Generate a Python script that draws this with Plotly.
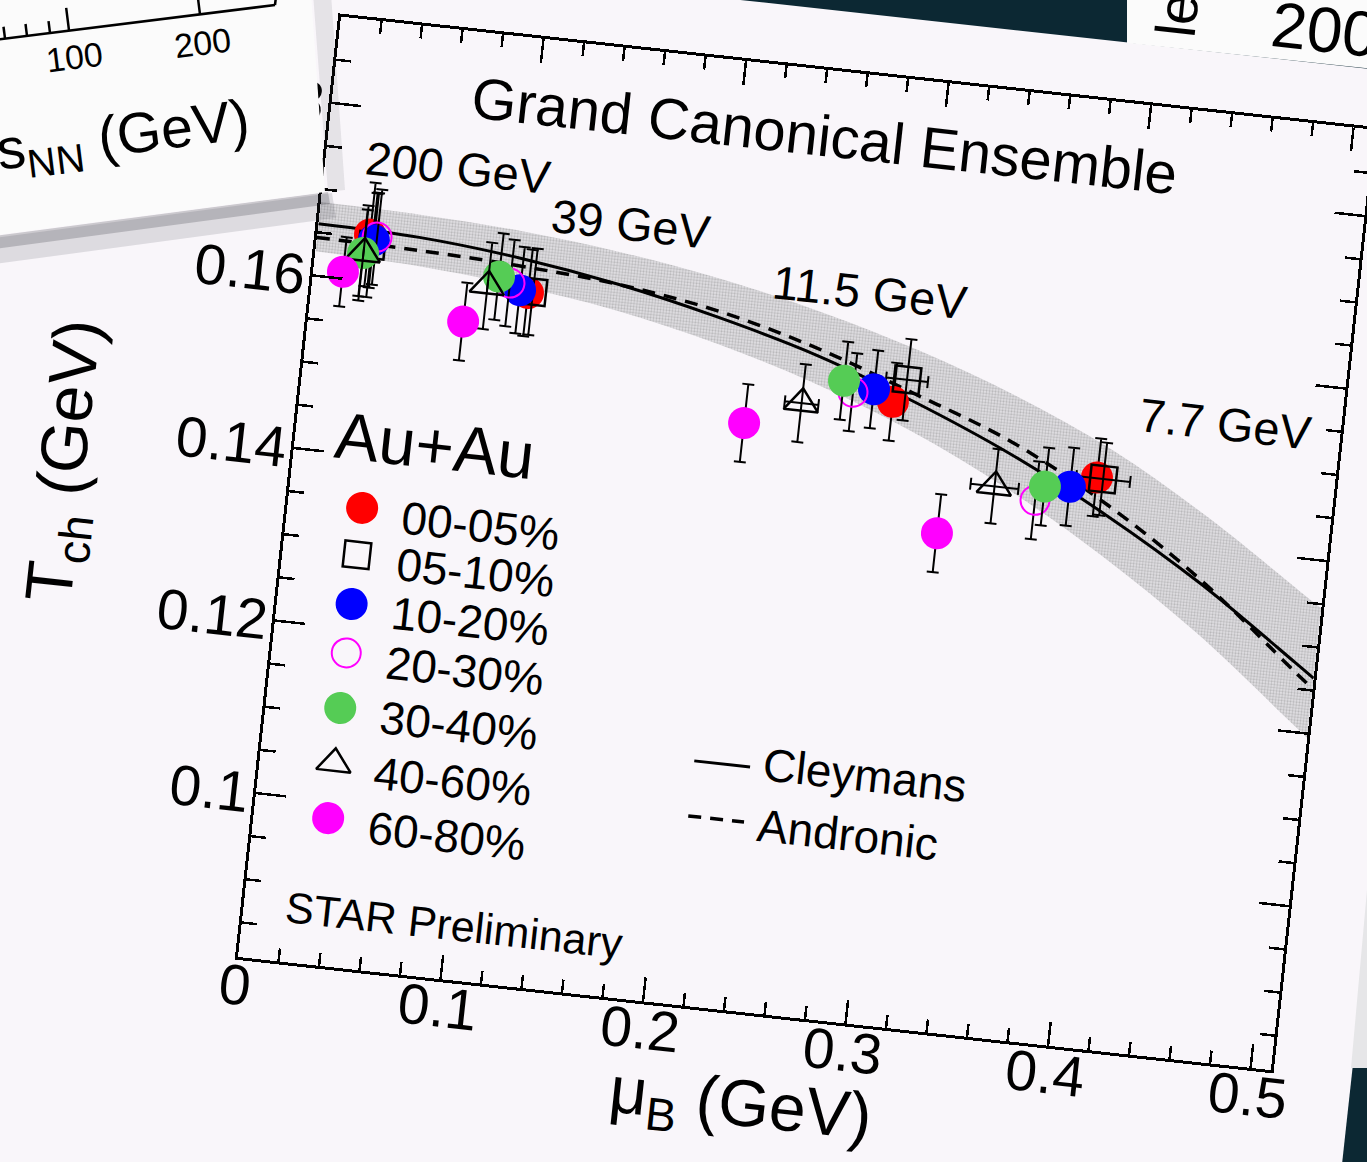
import math
import plotly.graph_objects as go

# ---------------------------------------------------------------- data ----
energies = ["200 GeV", "39 GeV", "11.5 GeV", "7.7 GeV"]
centralities = ["00-05%", "05-10%", "10-20%", "20-30%", "30-40%", "40-60%", "60-80%"]

# baryon chemical potential mu_B (GeV), one value per energy above
mu_b_00_05 = [0.0258, 0.1060, 0.2899, 0.3935]
mu_b_05_10 = [0.0273, 0.1084, 0.2956, 0.3966]
mu_b_10_20 = [0.0280, 0.1020, 0.2800, 0.3808]
mu_b_20_30 = [0.0294, 0.0967, 0.2699, 0.3645]
mu_b_30_40 = [0.0234, 0.0910, 0.2649, 0.3686]
mu_b_40_60 = [0.0236, 0.0859, 0.2454, 0.3440]
mu_b_60_80 = [0.0146, 0.0759, 0.2184, 0.3184]

# chemical freeze-out temperature T_ch (GeV)
t_ch_00_05 = [0.1654, 0.1607, 0.1528, 0.1467]
t_ch_05_10 = [0.1642, 0.1609, 0.1555, 0.1466]
t_ch_10_20 = [0.1648, 0.1609, 0.1540, 0.1453]
t_ch_20_30 = [0.1652, 0.1616, 0.1534, 0.1433]
t_ch_30_40 = [0.1632, 0.1622, 0.1546, 0.1450]
t_ch_40_60 = [0.1632, 0.1610, 0.1515, 0.1444]
t_ch_60_80 = [0.1608, 0.1566, 0.1485, 0.1383]

# uncertainties on T_ch
dt_00_05 = [0.0060, 0.0050, 0.0045, 0.0045]
dt_05_10 = [0.0060, 0.0050, 0.0047, 0.0042]
dt_10_20 = [0.0055, 0.0050, 0.0045, 0.0045]
dt_20_30 = [0.0055, 0.0050, 0.0045, 0.0045]
dt_30_40 = [0.0050, 0.0050, 0.0045, 0.0045]
dt_40_60 = [0.0055, 0.0050, 0.0045, 0.0043]
dt_60_80 = [0.0040, 0.0045, 0.0045, 0.0045]

# uncertainties on mu_B (only resolvable for two classes)
dmu_05_10 = [0.0, 0.0, 0.0103, 0.0133]
dmu_40_60 = [0.0, 0.0, 0.0083, 0.0118]

# freeze-out parametrisations
mu_curve = [0.00, 0.05, 0.10, 0.15, 0.20, 0.25, 0.30, 0.35, 0.40, 0.45, 0.50, 0.51]
t_cleymans = [0.1660, 0.1657, 0.1646, 0.1628, 0.1603, 0.1572, 0.1531, 0.1483,
              0.1425, 0.1358, 0.1280, 0.1264]
t_andronic = [0.1644, 0.1642, 0.1637, 0.1628, 0.1610, 0.1580, 0.1540, 0.1497,
              0.1437, 0.1362, 0.1270, 0.1252]
band_upper = [0.1685, 0.1683, 0.1677, 0.1665, 0.1647, 0.1622, 0.1590, 0.1550,
              0.1500, 0.1435, 0.1360, 0.1345]
band_lower = [0.1628, 0.1624, 0.1614, 0.1598, 0.1573, 0.1540, 0.1497, 0.1443,
              0.1378, 0.1302, 0.1213, 0.1195]

# ------------------------------------------------------------- styling ----
FONT = "Liberation Sans, Arial, Helvetica, sans-serif"
PAPER = "#f9f6fa"
DARK = "#0c2833"
RED, BLUE, GREEN, MAGENTA = "#ff0000", "#0000ff", "#55cc55", "#ff00ff"

PLOT_W, PLOT_H = 1039, 946
M_L, M_R, M_T, M_B = 360, 120, 140, 240
FIG_W, FIG_H = M_L + PLOT_W + M_R, M_T + PLOT_H + M_B
PAGE_X0, PAGE_Y0 = 238, 957          # page position of the axes' lower-left corner
TILT_DEG = 6.25                      # the sheet sits turned clockwise on the page
COS_T, SIN_T = math.cos(math.radians(TILT_DEG)), math.sin(math.radians(TILT_DEG))


def page_to_paper(px, py):
    """Page pixel -> paper fraction of the tilted axes."""
    dx, dy = px - PAGE_X0, py - PAGE_Y0
    u = dx * COS_T + dy * SIN_T
    up = dx * SIN_T - dy * COS_T
    return u / PLOT_W, up / PLOT_H


def page_path(points):
    pts = [page_to_paper(x, y) for x, y in points]
    return "M " + " L ".join(f"{x:.5f},{y:.5f}" for x, y in pts) + " Z"


open_sym = dict(color="black", width=2.5)
series = [
    dict(name="00-05%", x=mu_b_00_05, y=t_ch_00_05, ey=dt_00_05, ex=None,
         marker=dict(symbol="circle", size=32, color=RED, line=dict(width=0))),
    dict(name="05-10%", x=mu_b_05_10, y=t_ch_05_10, ey=dt_05_10, ex=dmu_05_10,
         marker=dict(symbol="square-open", size=26, color="black", line=open_sym)),
    dict(name="10-20%", x=mu_b_10_20, y=t_ch_10_20, ey=dt_10_20, ex=None,
         marker=dict(symbol="circle", size=32, color=BLUE, line=dict(width=0))),
    dict(name="20-30%", x=mu_b_20_30, y=t_ch_20_30, ey=dt_20_30, ex=None,
         marker=dict(symbol="circle-open", size=29, color=MAGENTA,
                     line=dict(color=MAGENTA, width=2))),
    dict(name="30-40%", x=mu_b_30_40, y=t_ch_30_40, ey=dt_30_40, ex=None,
         marker=dict(symbol="circle", size=32, color=GREEN, line=dict(width=0))),
    dict(name="40-60%", x=mu_b_40_60, y=t_ch_40_60, ey=dt_40_60, ex=dmu_40_60,
         marker=dict(symbol="triangle-up-open", size=30, color="black", line=open_sym)),
    dict(name="60-80%", x=mu_b_60_80, y=t_ch_60_80, ey=dt_60_80, ex=None,
         marker=dict(symbol="circle", size=32, color=MAGENTA, line=dict(width=0))),
]

fig = go.Figure()

# uncertainty band around the Cleymans parametrisation
fig.add_trace(go.Scatter(x=mu_curve, y=band_lower, mode="lines", line=dict(width=0),
                         line_shape="spline", hoverinfo="skip"))
fig.add_trace(go.Scatter(x=mu_curve, y=band_upper, mode="lines", line=dict(width=0),
                         line_shape="spline", fill="tonexty", fillcolor="#e1dfe3",
                         fillpattern=dict(shape=".", fgcolor="#8a8a8a", bgcolor="#e4e2e6",
                                          size=3, solidity=0.45),
                         hoverinfo="skip"))
fig.add_trace(go.Scatter(x=mu_curve, y=t_cleymans, mode="lines", line_shape="spline",
                         line=dict(color="black", width=3), name="Cleymans"))
fig.add_trace(go.Scatter(x=mu_curve, y=t_andronic, mode="lines", line_shape="spline",
                         line=dict(color="black", width=3.5, dash="13px,9px"), name="Andronic"))

for s in series:
    err_x = dict(type="data", array=s["ex"], color="black", thickness=2, width=6,
                 visible=True) if s["ex"] else None
    fig.add_trace(go.Scatter(
        x=s["x"], y=s["y"], mode="markers", name=s["name"], marker=s["marker"],
        error_y=dict(type="data", array=s["ey"], color="black", thickness=2, width=6),
        error_x=err_x, text=energies,
    ))

# legend drawn on an overlay axis spanning the plotting area (0..1)
legend_x = 0.0717
legend_y = [0.4862, 0.4363, 0.3840, 0.3320, 0.2734, 0.2146, 0.1563]
for s, ly in zip(series, legend_y):
    fig.add_trace(go.Scatter(x=[legend_x], y=[ly], mode="markers", marker=s["marker"],
                             xaxis="x2", yaxis="y2", hoverinfo="skip"))

model_line_x = [0.416, 0.470]
fig.add_trace(go.Scatter(x=model_line_x, y=[0.2586, 0.2586], mode="lines",
                         line=dict(color="black", width=3), xaxis="x2", yaxis="y2"))
fig.add_trace(go.Scatter(x=model_line_x, y=[0.2001, 0.2001], mode="lines",
                         line=dict(color="black", width=3.5, dash="13px,9px"),
                         xaxis="x2", yaxis="y2"))

annotations = []


def txt(text, x, y, size, xref="paper", yref="paper", xanchor="center",
        yanchor="middle", angle=0, color="black"):
    annotations.append(dict(text=text, x=x, y=y, xref=xref, yref=yref,
                            xanchor=xanchor, yanchor=yanchor, showarrow=False,
                            textangle=angle, font=dict(size=size, color=color, family=FONT)))


txt("Grand Canonical Ensemble", 0.2420, 0.1825, 58, xref="x", yref="y")
energy_label_pos = [(0.0652, 0.1741), (0.1526, 0.1699), (0.2728, 0.1651), (0.4531, 0.1544)]
for label, (ex, ey) in zip(energies, energy_label_pos):
    txt(label, ex, ey, 47, xref="x", yref="y")

txt("Au+Au", 0.1348, 0.5607, 66)
for s, ly in zip(series, legend_y):
    txt(s["name"], 0.1088, ly - 0.005, 46, xanchor="left")
txt("Cleymans", 0.4798, 0.2633, 46, xanchor="left")
txt("Andronic", 0.4813, 0.1984, 46, xanchor="left")
txt("STAR Preliminary", 0.2033, 0.0585, 43)

# axis titles
txt("T<sub>ch</sub> (GeV)", -0.2146, 0.5007, 66, angle=-90)
txt("μ<sub>B</sub> (GeV)", 0.4966, -0.1004, 66)

# ---------------------------------------------------- surrounding sheets ----
shapes = []
# this sheet
sx0, sy0 = -M_L / PLOT_W - 0.02, -M_B / PLOT_H - 0.02
shapes.append(dict(type="rect", xref="paper", yref="paper", x0=sx0, y0=sy0,
                   x1=1120 / PLOT_W, y1=1006 / PLOT_H, fillcolor=PAPER,
                   line=dict(width=0), layer="below"))

# neighbouring sheet at the right edge, above the dark corner
shapes.append(dict(type="path", xref="paper", yref="paper", layer="below",
                   path=page_path([(1351, 1068), (1420, 1068), (1460, 300), (1420, 300)]),
                   fillcolor="#e6e6e8", line=dict(width=0)))

# neighbouring sheet, upper left
shapes.append(dict(type="path", xref="paper", yref="paper", layer="above",
                   path=page_path([(-20, 240), (332, 193), (336, 218), (-20, 266)]),
                   fillcolor="rgba(60,60,70,0.14)", line=dict(width=0)))
shapes.append(dict(type="path", xref="paper", yref="paper", layer="above",
                   path=page_path([(-20, 238), (328, 192), (330, 204), (-20, 251)]),
                   fillcolor="rgba(40,40,50,0.22)", line=dict(width=0)))
shapes.append(dict(type="path", xref="paper", yref="paper", layer="above",
                   path=page_path([(312, -20), (328, 192), (345, 190), (330, -20)]),
                   fillcolor="rgba(60,60,70,0.10)", line=dict(width=0)))
shapes.append(dict(type="path", xref="paper", yref="paper", layer="above",
                   path=page_path([(-20, -20), (310, -20), (325, 192), (-20, 237)]),
                   fillcolor="#fbfbfb", line=dict(width=0)))


def page_line(p0, p1, width=2.5):
    (x0, y0), (x1, y1) = page_to_paper(*p0), page_to_paper(*p1)
    shapes.append(dict(type="line", xref="paper", yref="paper", x0=x0, y0=y0,
                       x1=x1, y1=y1, layer="above",
                       line=dict(color="black", width=width)))


AX_SLOPE = (5.0 - 39.3) / 275.0
AX_ANG = math.atan(AX_SLOPE)
page_line((-20, 39.3 - 20 * AX_SLOPE), (275, 5))
page_line((275, 5), (275 + 3, -20))
for tx, tl in [(5, 12), (27, 12), (50, 12), (69, 23), (200, 23)]:
    ty = 39.3 + tx * AX_SLOPE
    page_line((tx, ty), (tx + math.sin(AX_ANG) * tl, ty - math.cos(AX_ANG) * tl))
side_angle = math.degrees(AX_ANG) - TILT_DEG
for label, (px, py) in [("100", (75, 57)), ("200", (203, 43))]:
    x, y = page_to_paper(px, py)
    txt(label, x, y, 34, angle=side_angle)
x, y = page_to_paper(108, 140)
txt("√s<sub>NN</sub> (GeV)", x, y, 57, angle=side_angle)

# neighbouring sheet, upper right
shapes.append(dict(type="path", xref="paper", yref="paper", layer="above",
                   path=page_path([(1127, -30), (1450, -30), (1450, 77), (1127, 43)]),
                   fillcolor="#fbfbfb", line=dict(width=0)))
x, y = page_to_paper(1177, 15)
txt("le", x, y, 56, angle=-90)
x, y = page_to_paper(1325, 30)
txt("200", x, y, 64)

# ---------------------------------------------------------------- layout ----
axis_common = dict(showline=True, linecolor="black", linewidth=3, mirror="ticks",
                   ticks="inside", tickcolor="black", tickwidth=2.5, showgrid=False,
                   zeroline=False, tickfont=dict(size=57, family=FONT, color="black"))
fig.update_layout(
    width=FIG_W, height=FIG_H, autosize=False,
    margin=dict(l=M_L, r=M_R, t=M_T, b=M_B, pad=0),
    paper_bgcolor=DARK, plot_bgcolor=PAPER, showlegend=False,
    font=dict(family=FONT, color="black"),
    xaxis=dict(range=[0, 0.51], tick0=0, dtick=0.1, ticklen=24, ticklabelstandoff=-24,
               minor=dict(ticks="inside", ticklen=13, tickwidth=2.5, tickcolor="black",
                          dtick=0.02, tick0=0, showgrid=False),
               **axis_common),
    yaxis=dict(range=[0.081, 0.19], tick0=0, dtick=0.02, ticklen=30, ticklabelstandoff=-7,
               minor=dict(ticks="inside", ticklen=15, tickwidth=2.5, tickcolor="black",
                          dtick=0.005, tick0=0, showgrid=False),
               **axis_common),
    xaxis2=dict(overlaying="x", range=[0, 1], visible=False, fixedrange=True),
    yaxis2=dict(overlaying="y", range=[0, 1], visible=False, fixedrange=True),
    annotations=annotations,
    shapes=shapes,
)

# place the figure on the page, turned by the sheet's tilt around the axes corner
post = (
    "var gd = document.getElementById('{plot_id}');"
    "document.documentElement.style.overflow = 'hidden';"
    "document.body.style.margin = '0';"
    "document.body.style.overflow = 'hidden';"
    "document.body.style.background = '" + DARK + "';"
    "gd.style.position = 'absolute';"
    "gd.style.left = '" + str(PAGE_X0 - M_L) + "px';"
    "gd.style.top = '" + str(PAGE_Y0 - (M_T + PLOT_H)) + "px';"
    "gd.style.transformOrigin = '" + str(M_L) + "px " + str(M_T + PLOT_H) + "px';"
    "gd.style.transform = 'rotate(" + str(TILT_DEG) + "deg)';"
)

fig.write_html("out.html", config={"displayModeBar": False, "staticPlot": True},
               post_script=post)
